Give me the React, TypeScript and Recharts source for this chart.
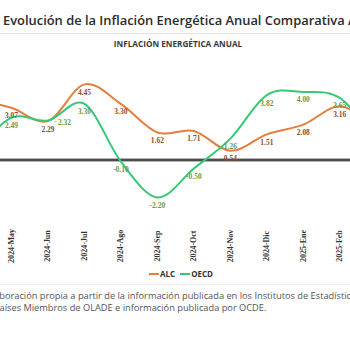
import React from 'react';
import { LineChart, Line, XAxis, YAxis, ReferenceLine, LabelList } from 'recharts';

const categories = ['2024-Abr', '2024-May', '2024-Jun', '2024-Jul', '2024-Ago', '2024-Sep', '2024-Oct', '2024-Nov', '2024-Dic', '2025-Ene', '2025-Feb', '2025-Mar'];
const alcValues = [3.6, 3.07, 2.29, 4.45, 3.3, 1.62, 1.71, 0.54, 1.51, 2.08, 3.16, 2.0];
const oecdValues = [0.5, 2.49, 2.32, 3.3, -0.1, -2.2, -0.5, 1.26, 3.82, 4.0, 3.65, 1.2];
const yDomain = [-4, 6];
const visibleFrom = 1;
const visibleTo = 10;

const data = categories.map((c, i) => ({ cat: c, ALC: alcValues[i], OECD: oecdValues[i] }));

const ALC_COLOR = '#E57E3C';
const OECD_COLOR = '#35C977';
const ALC_LABEL = '#8A4E30';
const OECD_LABEL = '#6A9A3E';

// Excel-like smoothed line (Catmull-Rom style bezier)
const excelSmooth = (context: any) => {
  let pts: number[][] = [];
  return {
    areaStart() {},
    areaEnd() {},
    lineStart() {
      pts = [];
    },
    point(x: number, y: number) {
      pts.push([+x, +y]);
    },
    lineEnd() {
      const n = pts.length;
      if (!n) return;
      context.moveTo(pts[0][0], pts[0][1]);
      for (let i = 0; i < n - 1; i++) {
        const p0 = pts[Math.max(i - 1, 0)];
        const p1 = pts[i];
        const p2 = pts[i + 1];
        const p3 = pts[Math.min(i + 2, n - 1)];
        context.bezierCurveTo(
          p1[0] + (p2[0] - p0[0]) / 6,
          p1[1] + (p2[1] - p0[1]) / 6,
          p2[0] - (p3[0] - p1[0]) / 6,
          p2[1] - (p3[1] - p1[1]) / 6,
          p2[0],
          p2[1]
        );
      }
    },
  };
};

const labelFont = "'Liberation Serif', serif";

const makeLabel = (color: string, sideIndex: number) => (props: any) => {
  const { x, y, value, index } = props;
  if (index < visibleFrom || index > visibleTo) return null;
  const txt = Number(value).toFixed(2);
  if (index === sideIndex) {
    return (
      <g>
        <line x1={x + 6} y1={y + 1} x2={x + 9} y2={y + 1} stroke="#bbb" strokeWidth={0.8} />
        <text x={x + 10} y={y + 1.5} fill={color} fontSize={7.5} fontWeight="bold" fontFamily={labelFont} dominantBaseline="central">
          {txt}
        </text>
      </g>
    );
  }
  return (
    <text x={x} y={y + 8} fill={color} fontSize={7.5} fontWeight="bold" fontFamily={labelFont} textAnchor="middle" dominantBaseline="central">
      {txt}
    </text>
  );
};

const XTick = (props: any) => {
  const { x, payload, index } = props;
  if (index < visibleFrom || index > visibleTo) return null;
  return (
    <text
      transform={`translate(${x},188) rotate(-90)`}
      fill="#333"
      fontSize={8}
      fontWeight="bold"
      fontFamily={labelFont}
      textAnchor="middle"
      dominantBaseline="central"
    >
      {payload.value}
    </text>
  );
};

export default function App() {
  return (
    <div
      style={{
        position: 'fixed',
        left: 0,
        top: 0,
        width: 350,
        height: 350,
        overflow: 'hidden',
        background: '#fff',
        fontFamily: "'Open Sans', sans-serif",
      }}
    >
      <div
        style={{
          position: 'absolute',
          left: 3,
          top: 11,
          whiteSpace: 'nowrap',
          fontSize: 12.9,
          fontWeight: 600,
          color: '#2b2b2b',
          lineHeight: '18px',
        }}
      >
        Evolución de la Inflación Energética Anual Comparativa ALC - OECD
      </div>
      <div style={{ position: 'absolute', left: 0, top: 33, width: 350, height: 1, background: '#e4e4e4' }} />
      <div
        style={{
          position: 'absolute',
          left: 0,
          width: 356,
          top: 38,
          textAlign: 'center',
          fontSize: 8.2,
          fontWeight: 700,
          color: '#3a3a3a',
          lineHeight: '12px',
        }}
      >
        INFLACIÓN ENERGÉTICA ANUAL
      </div>
      <div style={{ position: 'absolute', left: -25.5, top: 58 }}>
        <LineChart width={401.3} height={210} data={data} margin={{ top: 0, right: 0, bottom: 0, left: 0 }}>
          <XAxis dataKey="cat" interval={0} axisLine={false} tickLine={false} height={40} tick={<XTick />} />
          <YAxis hide domain={yDomain} type="number" />
          <ReferenceLine y={0} stroke="#9a9a9a" strokeWidth={3.5} ifOverflow="extendDomain" />
          <ReferenceLine y={0} stroke="#333" strokeWidth={1.5} />
          <Line
            dataKey="ALC"
            type={excelSmooth as any}
            stroke={ALC_COLOR}
            strokeWidth={2}
            dot={false}
            isAnimationActive={false}
          >
            <LabelList dataKey="ALC" content={makeLabel(ALC_LABEL, -1)} />
          </Line>
          <Line
            dataKey="OECD"
            type={excelSmooth as any}
            stroke={OECD_COLOR}
            strokeWidth={2}
            dot={false}
            isAnimationActive={false}
          >
            <LabelList dataKey="OECD" content={makeLabel(OECD_LABEL, 2)} />
          </Line>
        </LineChart>
      </div>
      <div
        style={{
          position: 'absolute',
          left: 0,
          width: 362,
          top: 268,
          display: 'flex',
          justifyContent: 'center',
          alignItems: 'center',
          fontSize: 8,
          fontWeight: 700,
          color: '#333',
          lineHeight: '12px',
        }}
      >
        <span style={{ display: 'inline-block', width: 10, height: 2, background: ALC_COLOR, marginRight: 1 }} />
        <span style={{ marginRight: 5 }}>ALC</span>
        <span style={{ display: 'inline-block', width: 10, height: 2, background: OECD_COLOR, marginRight: 1 }} />
        <span>OECD</span>
      </div>
      <div style={{ position: 'absolute', left: 0, top: 284, width: 350, height: 1, background: '#ececec' }} />
      <div
        style={{
          position: 'absolute',
          left: -48,
          top: 290,
          whiteSpace: 'nowrap',
          fontSize: 9.25,
          color: '#555',
          lineHeight: '12px',
        }}
      >
        Fuente: Elaboración propia a partir de la información publicada en los Institutos de Estadística de los
      </div>
      <div
        style={{
          position: 'absolute',
          left: -6,
          top: 302,
          whiteSpace: 'nowrap',
          fontSize: 9.25,
          color: '#555',
          lineHeight: '12px',
        }}
      >
        Países Miembros de OLADE e información publicada por OCDE.
      </div>
    </div>
  );
}
